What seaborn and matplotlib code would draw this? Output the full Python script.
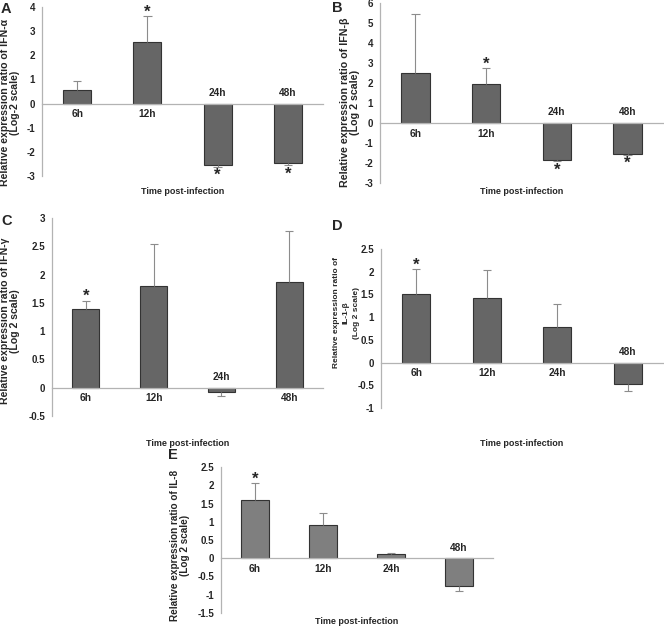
import numpy as np
import pandas as pd
import matplotlib
matplotlib.use("Agg")
import matplotlib.pyplot as plt
import seaborn as sns

sns.set_style("white")
plt.rcParams['font.family'] = ['Liberation Sans', 'DejaVu Sans']
plt.rcParams['font.weight'] = 'bold'

# Donnees
times = ["6h", "12h", "24h", "48h"]

ifn_a = [0.55, 2.55, -2.55, -2.48]
ifn_a_err = [0.37, 1.07, 0.06, 0.06]
ifn_a_sig = [False, True, True, True]

ifn_b = [2.52, 1.97, -1.87, -1.53]
ifn_b_err = [2.95, 0.78, 0.05, 0.05]
ifn_b_sig = [False, True, True, True]

ifn_g = [1.40, 1.80, -0.08, 1.86]
ifn_g_err = [0.14, 0.74, 0.07, 0.91]
ifn_g_sig = [True, False, False, False]

il1b = [1.50, 1.42, 0.78, -0.47]
il1b_err = [0.56, 0.61, 0.50, 0.16]
il1b_sig = [True, False, False, False]

il8 = [1.60, 0.92, 0.12, -0.76]
il8_err = [0.45, 0.33, 0.02, 0.14]
il8_sig = [True, False, False, False]

W, H = 664, 626
fig = plt.figure(figsize=(W / 100, H / 100), dpi=100)

# (lettre, valeurs, erreurs, signif, lignes du ylabel, taille ylabel, ecart lignes px,
#  centre ylabel, ylim, pas, rect en pixels, y du xlabel, couleur, position lettre)
panels = [
    ("A", ifn_a, ifn_a_err, ifn_a_sig,
     ["Relative expression ratio of IFN-\u03b1", "(Log-2 scale)"],
     7.6, 10.5, (10, 103), (-3, 4), 1, (42, 7, 323, 176), 192, "#666666", (1, 2)),
    ("B", ifn_b, ifn_b_err, ifn_b_sig,
     ["Relative expression ratio of IFN-\u03b2", "(Log 2 scale)"],
     7.7, 10.5, (350, 102), (-3, 6), 1, (380, 3, 663, 183), 192, "#666666", (332, 1)),
    ("C", ifn_g, ifn_g_err, ifn_g_sig,
     ["Relative expression ratio of IFN-\u03b3", "(Log 2 scale)"],
     7.6, 10.0, (10, 321), (-0.5, 3), 0.5, (52, 218, 323, 416), 443, "#666666", (1, 214)),
    ("D", il1b, il1b_err, il1b_sig,
     ["Relative expression ratio of", "IL-1-\u03b2", "(Log 2 scale)"],
     6.0, 10.0, (346, 313), (-1, 2.5), 0.5, (381, 249, 663, 408), 443, "#666666", (332, 219)),
    ("E", il8, il8_err, il8_sig,
     ["Relative expression ratio of IL-8", "(Log 2 scale)"],
     7.2, 9.5, (180, 545), (-1.5, 2.5), 0.5, (221, 467, 493, 613), 621, "#7f7f7f", (168, 448)),
]

axis_col = "#b3b3b3"

for (letter, vals, errs, sig, ylines, ysize, yspace, ycen, ylim, step,
     rect, xlab_y, col, lpos) in panels:
    l, t, r, b = rect
    ax = fig.add_axes([l / W, 1 - b / H, (r - l) / W, (b - t) / H])
    df = pd.DataFrame({"time": times, "value": vals})
    sns.barplot(data=df, x="time", y="value", color=col, edgecolor="#333333",
                linewidth=0.8, width=0.4, saturation=1, ax=ax)

    vals = np.array(vals)
    errs = np.array(errs)
    ends = vals + np.sign(vals) * errs
    xs = np.arange(len(times))
    ax.vlines(xs, vals, ends, color="#8c8c8c", lw=0.8, zorder=1)
    ax.hlines(ends, xs - 0.06, xs + 0.06, color="#8c8c8c", lw=0.8, zorder=1)

    for i, t_lab in enumerate(times):
        up = vals[i] >= 0
        ax.annotate(t_lab, (i, 0), xytext=(0, -4 if up else 4), textcoords="offset points",
                    ha="center", va="top" if up else "bottom", fontsize=7.3, fontweight="bold")
        if sig[i]:
            ax.annotate("*", (i, ends[i]), xytext=(0, 3 if up else -6.5), textcoords="offset points",
                        ha="center", va="center", fontsize=12, fontweight="bold")

    ax.set_xlim(-0.5, len(times) - 0.5)
    ax.set_ylim(*ylim)
    ax.set_yticks(np.arange(ylim[0], ylim[1] + step / 2, step))
    ax.yaxis.set_major_formatter(matplotlib.ticker.FuncFormatter(lambda v, p: f"{v:g}"))
    ax.set_xticks(np.arange(0.5, len(times), 1.0))
    ax.set_xticklabels([])
    ax.set_xlabel("")
    ax.set_ylabel("")

    ax.spines["top"].set_visible(False)
    ax.spines["right"].set_visible(False)
    ax.spines["bottom"].set_position(("data", 0))
    for s in ("left", "bottom"):
        ax.spines[s].set_color(axis_col)
        ax.spines[s].set_linewidth(0.9)
    ax.tick_params(axis="y", direction="out", length=3, width=0.8, color=axis_col,
                   labelsize=7, pad=2)
    ax.tick_params(axis="x", direction="out", length=2, width=0.8, color=axis_col)
    for lab in ax.get_yticklabels():
        lab.set_fontweight("bold")
    ax.set_facecolor("none")

    # ylabel ligne par ligne (texte vertical)
    n = len(ylines)
    for k, line in enumerate(ylines):
        xpix = ycen[0] + (k - (n - 1) / 2) * yspace
        fig.text(xpix / W, 1 - ycen[1] / H, line, rotation=90, ha="center", va="center",
                 fontsize=ysize, fontweight="bold")
    fig.text((l + r) / 2 / W, 1 - xlab_y / H, "Time post-infection", ha="center", va="center",
             fontsize=6.5, fontweight="bold")
    fig.text(lpos[0] / W, 1 - lpos[1] / H, letter, ha="left", va="top",
             fontsize=10.5, fontweight="bold")

fig.savefig("out.png", dpi=100)
